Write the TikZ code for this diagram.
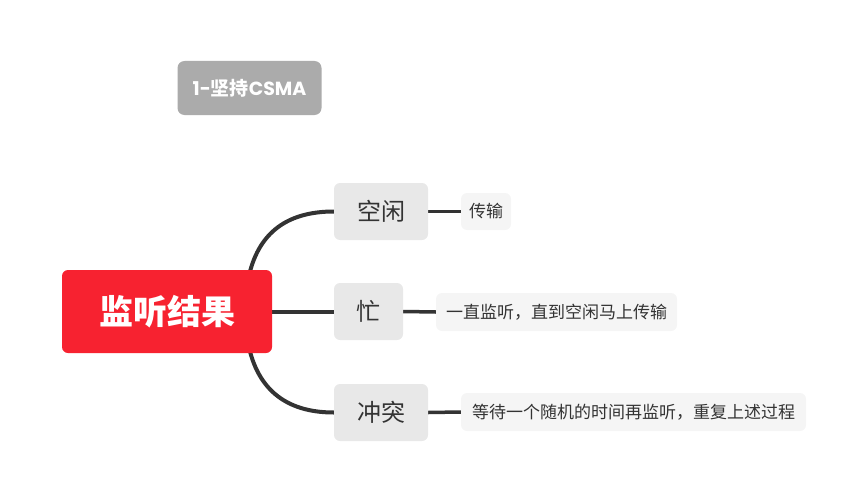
\documentclass[tikz,border=0pt]{standalone}
\usepackage{fontspec}
\setmainfont{Noto Sans CJK SC}
\newfontfamily\latinbold{Poppins}
\usetikzlibrary{backgrounds}
\definecolor{rootred}{HTML}{F72230}
\definecolor{csmagray}{HTML}{ABABAB}
\definecolor{branchgray}{HTML}{E8E8E8}
\definecolor{leafgray}{HTML}{F5F5F5}
\definecolor{ink}{HTML}{333333}
\begin{document}
\begin{tikzpicture}[x=1pt,y=-1pt,
  rootbox/.style={fill=rootred,rounded corners=6pt,text=white,font=\fontsize{34}{40}\selectfont\bfseries,inner sep=0pt},
  tagbox/.style={fill=csmagray,rounded corners=7pt,text=white,font=\fontsize{19}{22}\selectfont\bfseries,inner sep=0pt},
  branchbox/.style={fill=branchgray,rounded corners=6pt,text=ink,font=\fontsize{24}{28}\selectfont,inner sep=0pt,minimum height=57pt},
  leafbox/.style={fill=leafgray,rounded corners=6pt,text=ink,font=\fontsize{17}{20}\selectfont,inner sep=0pt,minimum height=38pt},
  mainlink/.style={draw=ink,line width=4pt},
  leaflink/.style={draw=ink,line width=3.5pt}]
\useasboundingbox (0,0) rectangle (867,503);

% central topic and floating label
\node[rootbox,minimum width=210pt,minimum height=83pt] (root) at (167,311.5) {监听结果};
\node[tagbox,minimum width=144pt,minimum height=54pt] (tag) at (249.5,88)
  {{\latinbold\bfseries 1-}坚持{\latinbold\bfseries CSMA}};

% branches
\node[branchbox,minimum width=94pt] (idle) at (381,211.5) {空闲};
\node[branchbox,minimum width=69pt] (busy) at (368.5,311.5) {忙};
\node[branchbox,minimum width=94pt] (clash) at (381,412.5) {冲突};

% leaves
\node[leafbox,minimum width=50pt,minimum height=37pt] (send) at (486,211.5) {传输};
\node[leafbox,minimum width=241pt] (listen) at (556.5,312) {一直监听，直到空闲马上传输};
\node[leafbox,minimum width=345pt] (wait) at (633.5,412) {等待一个随机的时间再监听，重复上述过程};

\begin{scope}[on background layer]
  \draw[mainlink] ([xshift=-25pt,yshift=-15pt]root.north east)
     .. controls ([xshift=-17pt,yshift=35pt]root.north east) and ([xshift=-49pt]idle.west) .. (idle.west);
  \draw[mainlink] (root.east) -- (busy.west);
  \draw[mainlink] ([xshift=-25pt,yshift=15pt]root.south east)
     .. controls ([xshift=-17pt,yshift=-35pt]root.south east) and ([xshift=-49pt]clash.west) .. (clash.west);
  \draw[leaflink] (idle.east) -- (send.west);
  \draw[leaflink] (busy.east) -- (listen.west);
  \draw[leaflink] (clash.east) -- (wait.west);
\end{scope}
\end{tikzpicture}
\end{document}
